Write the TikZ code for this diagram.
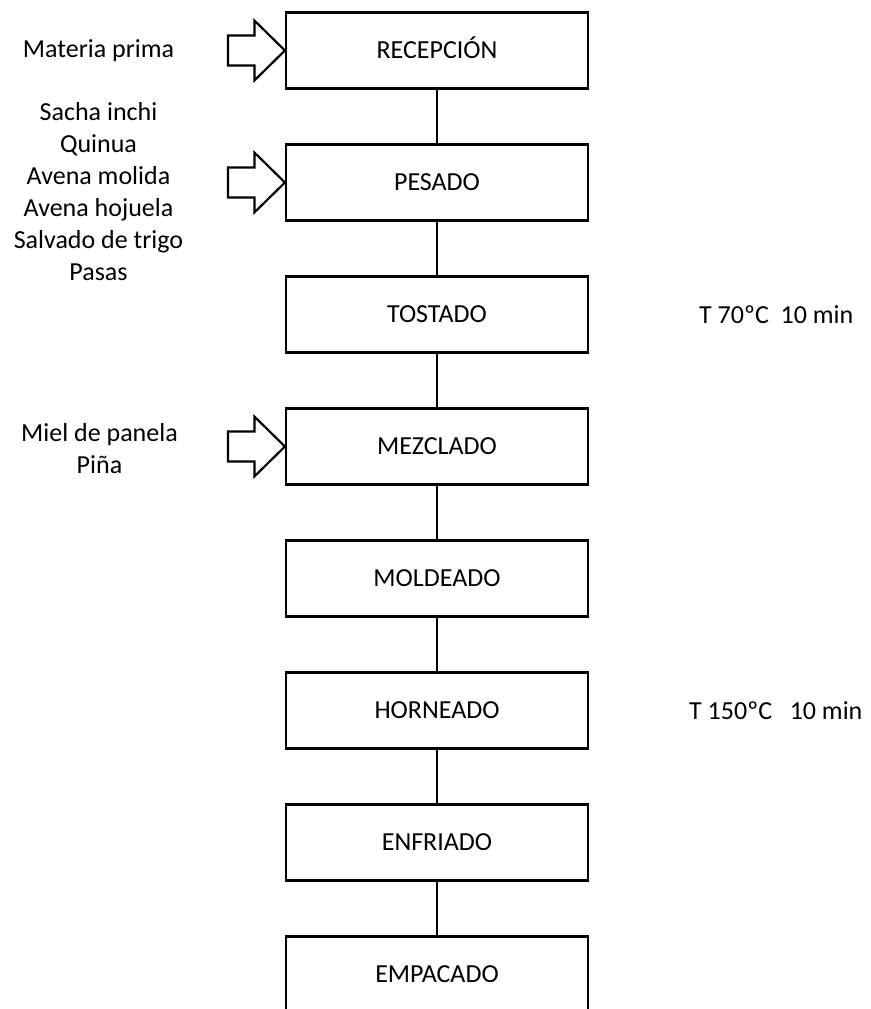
\documentclass[tikz,border=0pt]{standalone}
\usepackage{fontspec}
\setmainfont{Carlito}
\begin{document}
\begin{tikzpicture}[x=1pt,y=-1pt,
  stepbox/.style={draw, line width=2.2pt, minimum width=302pt, minimum height=76pt, inner sep=0pt,
    text height=16.7pt, text depth=0pt, font=\fontsize{26}{32}\selectfont},
  link/.style={line width=2.2pt},
  inarrow/.style={draw, line width=2.2pt, line join=miter, fill=white},
  lbl/.style={font=\fontsize{26}{32}\selectfont, inner sep=0pt, align=center}]
\useasboundingbox (0,0) rectangle (870,1009);
\path[clip] (0,0) rectangle (870,1009);

% process boxes
\node[stepbox] (rec) at (437,50.5)  {RECEPCIÓN};
\node[stepbox] (pes) at (437,182.5) {PESADO};
\node[stepbox] (tos) at (437,314.5) {TOSTADO};
\node[stepbox] (mez) at (437,446.5) {MEZCLADO};
\node[stepbox] (mol) at (437,578.5) {MOLDEADO};
\node[stepbox] (hor) at (437,710.5) {HORNEADO};
\node[stepbox] (enf) at (437,842.5) {ENFRIADO};
\node[stepbox] (emp) at (437,974.5) {EMPACADO};

% connectors
\draw[link] (rec) -- (pes);
\draw[link] (pes) -- (tos);
\draw[link] (tos) -- (mez);
\draw[link] (mez) -- (mol);
\draw[link] (mol) -- (hor);
\draw[link] (hor) -- (enf);
\draw[link] (enf) -- (emp);

% input block arrows
\draw[inarrow] (rec.west) -- ++(-30.5,-30) -- ++(0,15) -- ++(-26.5,0) -- ++(0,30) -- ++(26.5,0) -- ++(0,15) -- cycle;
\draw[inarrow] (pes.west) -- ++(-30.5,-30) -- ++(0,15) -- ++(-26.5,0) -- ++(0,30) -- ++(26.5,0) -- ++(0,15) -- cycle;
\draw[inarrow] (mez.west) -- ++(-30.5,-30) -- ++(0,15) -- ++(-26.5,0) -- ++(0,30) -- ++(26.5,0) -- ++(0,15) -- cycle;

% input labels
\node[lbl] (mp) at (98.5,51) {Materia prima};
\node[lbl] (ing) at (98.5,192) {Sacha inchi\\Quinua\\Avena molida\\Avena hojuela\\Salvado de trigo\\Pasas};
\node[lbl] (miel) at (99.5,449) {Miel de panela\\Piña};

% conditions
\node[lbl, anchor=west] (ct) at (699,314.5) {T 70ºC\ \ 10 min};
\node[lbl, anchor=west] (ch) at (689,711) {T 150ºC\ \ \ 10 min};
\end{tikzpicture}
\end{document}
